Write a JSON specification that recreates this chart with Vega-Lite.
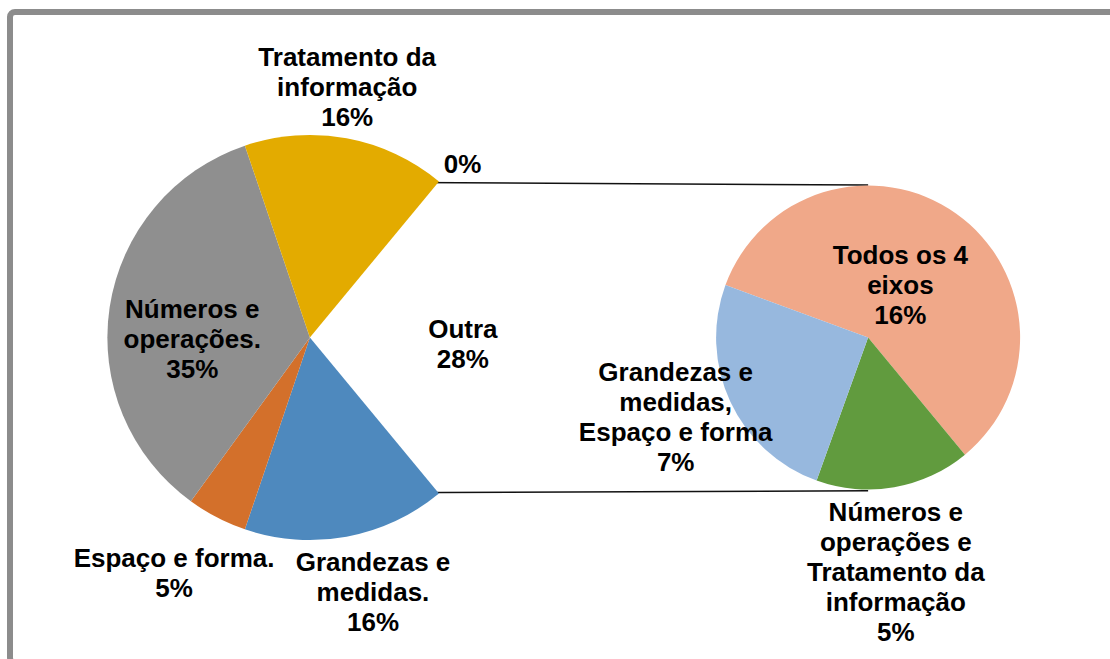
{
  "$schema": "https://vega.github.io/schema/vega-lite/v6.json",
  "width": 1158,
  "height": 651,
  "autosize": {"type": "none"},
  "padding": {"left": 10, "top": 12, "right": 0, "bottom": 0},
  "background": "white",
  "config": {
    "view": {"stroke": "#8c8c8c", "strokeWidth": 6, "cornerRadius": 5, "fill": "white"},
    "text": {"font": "Liberation Sans", "fontWeight": "bold", "fontSize": 26, "lineHeight": 30, "align": "center", "baseline": "middle", "color": "black", "lineBreak": "\n"}
  },
  "datasets": {
    "main": [
      {"pie": "main", "k": 1, "cat": "Outra", "v": 28, "label": "Outra\n28%"},
      {"pie": "main", "k": 2, "cat": "Grandezas e medidas.", "v": 16.2, "label": "Grandezas e\nmedidas.\n16%"},
      {"pie": "main", "k": 3, "cat": "Espaço e forma.", "v": 4.8, "label": "Espaço e forma.\n5%"},
      {"pie": "main", "k": 4, "cat": "Números e operações.", "v": 34.8, "label": "Números e\noperações.\n35%"},
      {"pie": "main", "k": 5, "cat": "Tratamento da informação", "v": 16.2, "label": "Tratamento da\ninformação\n16%"},
      {"pie": "main", "k": 6, "cat": "vazio", "v": 0, "label": "0%"}
    ],
    "sec": [
      {"pie": "sec", "k": 1, "cat": "Todos os 4 eixos", "v": 16.35, "label": "Todos os 4\neixos\n16%"},
      {"pie": "sec", "k": 2, "cat": "Números e operações e Tratamento da informação", "v": 4.62, "label": "Números e\noperações e\nTratamento da\ninformação\n5%"},
      {"pie": "sec", "k": 3, "cat": "Grandezas e medidas, Espaço e forma", "v": 7.03, "label": "Grandezas e\nmedidas,\nEspaço e forma\n7%"}
    ]
  },
  "layer": [
    {
      "data": {"values": [{}]},
      "mark": {"type": "rule", "color": "#111111", "strokeWidth": 1.4},
      "encoding": {
        "x": {"datum": "main", "type": "nominal", "scale": {"type": "point", "domain": ["main", "sec"], "padding": 0.5372}, "axis": null},
        "x2": {"datum": "sec"},
        "y": {"datum": 0.768, "type": "quantitative", "scale": {"domain": [-1.6074, 1.6074]}, "axis": null},
        "y2": {"datum": 0.753}
      }
    },
    {
      "data": {"values": [{}]},
      "mark": {"type": "rule", "color": "#111111", "strokeWidth": 1.4},
      "encoding": {
        "x": {"datum": "main", "type": "nominal", "scale": {"type": "point", "domain": ["main", "sec"], "padding": 0.5372}, "axis": null},
        "x2": {"datum": "sec"},
        "y": {"datum": -0.768, "type": "quantitative", "scale": {"domain": [-1.6074, 1.6074]}, "axis": null},
        "y2": {"datum": -0.757}
      }
    },
    {
      "data": {"name": "main"},
      "mark": {"type": "arc", "radius": 202.5},
      "encoding": {
        "x": {"field": "pie", "type": "nominal", "scale": {"type": "point", "domain": ["main", "sec"], "padding": 0.5372}, "axis": null},
        "theta": {"field": "v", "type": "quantitative", "stack": true, "scale": {"domain": [0, 100], "range": [0.6912, 6.9744]}},
        "order": {"field": "k", "type": "quantitative"},
        "color": {"field": "cat", "type": "nominal", "legend": null, "scale": {"domain": ["Outra", "Grandezas e medidas.", "Espaço e forma.", "Números e operações.", "Tratamento da informação", "vazio"], "range": ["rgba(0,0,0,0)", "#4e89be", "#d3702b", "#8f8f8f", "#e3ab00", "rgba(0,0,0,0)"]}}
      }
    },
    {
      "data": {"name": "sec"},
      "mark": {"type": "arc", "radius": 152},
      "encoding": {
        "x": {"field": "pie", "type": "nominal", "scale": {"type": "point", "domain": ["main", "sec"], "padding": 0.5372}, "axis": null},
        "theta": {"field": "v", "type": "quantitative", "stack": true, "scale": {"domain": [0, 28], "range": [5.065, 11.3482]}},
        "order": {"field": "k", "type": "quantitative"},
        "color": {"field": "cat", "type": "nominal", "legend": null, "scale": {"domain": ["Todos os 4 eixos", "Números e operações e Tratamento da informação", "Grandezas e medidas, Espaço e forma"], "range": ["#f0a889", "#619b3e", "#97b8de"]}}
      }
    },
    {
      "data": {"name": "main"},
      "mark": {"type": "text", "radius": 250, "dx": -8, "dy": -33.5},
      "encoding": {
        "x": {"field": "pie", "type": "nominal", "scale": {"type": "point", "domain": ["main", "sec"], "padding": 0.5372}, "axis": null},
        "theta": {"field": "v", "type": "quantitative", "stack": true, "scale": {"domain": [0, 100], "range": [0.6912, 6.9744]}},
        "order": {"field": "k", "type": "quantitative"},
        "text": {"condition": {"test": "datum.k === 5", "field": "label", "type": "nominal"}, "value": ""}
      }
    },
    {
      "data": {"name": "main"},
      "mark": {"type": "text", "radius": 230, "dx": 6, "dy": 5},
      "encoding": {
        "x": {"field": "pie", "type": "nominal", "scale": {"type": "point", "domain": ["main", "sec"], "padding": 0.5372}, "axis": null},
        "theta": {"field": "v", "type": "quantitative", "stack": true, "scale": {"domain": [0, 100], "range": [0.6912, 6.9744]}},
        "order": {"field": "k", "type": "quantitative"},
        "text": {"condition": {"test": "datum.k === 6", "field": "label", "type": "nominal"}, "value": ""}
      }
    },
    {
      "data": {"name": "main"},
      "mark": {"type": "text", "radius": 118, "dx": -1, "dy": -10},
      "encoding": {
        "x": {"field": "pie", "type": "nominal", "scale": {"type": "point", "domain": ["main", "sec"], "padding": 0.5372}, "axis": null},
        "theta": {"field": "v", "type": "quantitative", "stack": true, "scale": {"domain": [0, 100], "range": [0.6912, 6.9744]}},
        "order": {"field": "k", "type": "quantitative"},
        "text": {"condition": {"test": "datum.k === 4", "field": "label", "type": "nominal"}, "value": ""}
      }
    },
    {
      "data": {"name": "main"},
      "mark": {"type": "text", "radius": 153, "dx": 0, "dy": -7.5},
      "encoding": {
        "x": {"field": "pie", "type": "nominal", "scale": {"type": "point", "domain": ["main", "sec"], "padding": 0.5372}, "axis": null},
        "theta": {"field": "v", "type": "quantitative", "stack": true, "scale": {"domain": [0, 100], "range": [0.6912, 6.9744]}},
        "order": {"field": "k", "type": "quantitative"},
        "text": {"condition": {"test": "datum.k === 1", "field": "label", "type": "nominal"}, "value": ""}
      }
    },
    {
      "data": {"name": "main"},
      "mark": {"type": "text", "radius": 265, "dx": -14, "dy": -14},
      "encoding": {
        "x": {"field": "pie", "type": "nominal", "scale": {"type": "point", "domain": ["main", "sec"], "padding": 0.5372}, "axis": null},
        "theta": {"field": "v", "type": "quantitative", "stack": true, "scale": {"domain": [0, 100], "range": [0.6912, 6.9744]}},
        "order": {"field": "k", "type": "quantitative"},
        "text": {"condition": {"test": "datum.k === 3", "field": "label", "type": "nominal"}, "value": ""}
      }
    },
    {
      "data": {"name": "main"},
      "mark": {"type": "text", "radius": 260, "dx": 16, "dy": -30},
      "encoding": {
        "x": {"field": "pie", "type": "nominal", "scale": {"type": "point", "domain": ["main", "sec"], "padding": 0.5372}, "axis": null},
        "theta": {"field": "v", "type": "quantitative", "stack": true, "scale": {"domain": [0, 100], "range": [0.6912, 6.9744]}},
        "order": {"field": "k", "type": "quantitative"},
        "text": {"condition": {"test": "datum.k === 2", "field": "label", "type": "nominal"}, "value": ""}
      }
    },
    {
      "data": {"name": "sec"},
      "mark": {"type": "text", "radius": 61, "dx": -3, "dy": -32},
      "encoding": {
        "x": {"field": "pie", "type": "nominal", "scale": {"type": "point", "domain": ["main", "sec"], "padding": 0.5372}, "axis": null},
        "theta": {"field": "v", "type": "quantitative", "stack": true, "scale": {"domain": [0, 28], "range": [5.065, 11.3482]}},
        "order": {"field": "k", "type": "quantitative"},
        "text": {"condition": {"test": "datum.k === 1", "field": "label", "type": "nominal"}, "value": ""}
      }
    },
    {
      "data": {"name": "sec"},
      "mark": {"type": "text", "radius": 237, "dx": -13, "dy": -58},
      "encoding": {
        "x": {"field": "pie", "type": "nominal", "scale": {"type": "point", "domain": ["main", "sec"], "padding": 0.5372}, "axis": null},
        "theta": {"field": "v", "type": "quantitative", "stack": true, "scale": {"domain": [0, 28], "range": [5.065, 11.3482]}},
        "order": {"field": "k", "type": "quantitative"},
        "text": {"condition": {"test": "datum.k === 2", "field": "label", "type": "nominal"}, "value": ""}
      }
    },
    {
      "data": {"name": "sec"},
      "mark": {"type": "text", "radius": 209, "dx": -3, "dy": -53},
      "encoding": {
        "x": {"field": "pie", "type": "nominal", "scale": {"type": "point", "domain": ["main", "sec"], "padding": 0.5372}, "axis": null},
        "theta": {"field": "v", "type": "quantitative", "stack": true, "scale": {"domain": [0, 28], "range": [5.065, 11.3482]}},
        "order": {"field": "k", "type": "quantitative"},
        "text": {"condition": {"test": "datum.k === 3", "field": "label", "type": "nominal"}, "value": ""}
      }
    }
  ],
  "resolve": {"scale": {"theta": "independent", "color": "independent"}}
}
